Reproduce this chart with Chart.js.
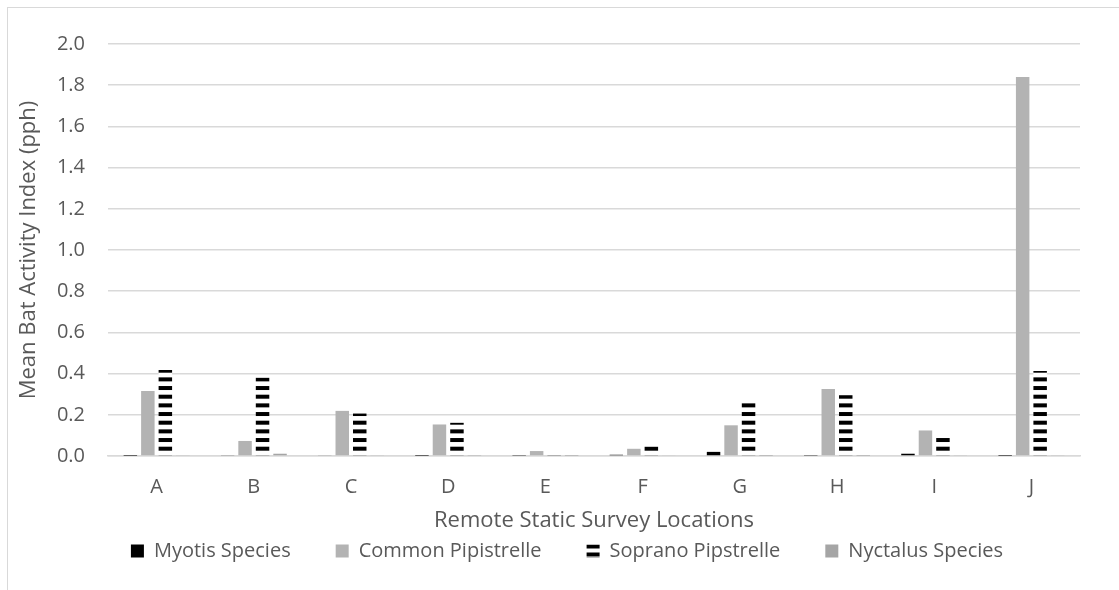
<!DOCTYPE html>
<html>
<head>
<meta charset="utf-8">
<script src="https://cdn.jsdelivr.net/npm/chart.js@4.4.0/dist/chart.umd.min.js"></script>
<style>
  html, body { margin: 0; padding: 0; background: #ffffff; }
  #wrap { width: 1119px; height: 590px; }
</style>
</head>
<body>
<div id="wrap"><canvas id="bats" width="1119" height="590"></canvas></div>
<script>
// Survey locations along the x axis
const locations = ['A', 'B', 'C', 'D', 'E', 'F', 'G', 'H', 'I', 'J'];

// Mean bat activity index (passes per hour) per species group
const myotisSpecies      = [0.001, 0.003, 0.004, 0.001, 0.002, 0.006, 0.020, 0.002, 0.011, 0.001];
const commonPipistrelle  = [0.316, 0.073, 0.219, 0.153, 0.024, 0.035, 0.149, 0.325, 0.124, 1.840];
const sopranoPipistrelle = [0.418, 0.380, 0.206, 0.161, 0.002, 0.047, 0.258, 0.295, 0.088, 0.413];
const nyctalusSpecies    = [0.003, 0.011, 0.003, 0.002, 0.001, 0.004, 0.001, 0.001, 0.003, 0.003];

// Value axis ticks
const yTicks = ['0.0', '0.2', '0.4', '0.6', '0.8', '1.0', '1.2', '1.4', '1.6', '1.8', '2.0'];

const FONT = '"Open Sans", "Noto Sans", sans-serif';
const TEXT = '#595959';
const GRID = '#d9d9d9';

// Wide horizontal black stripes on white (soprano series)
function stripePattern(height, bands) {
  const c = document.createElement('canvas');
  c.width = 8; c.height = height;
  const g = c.getContext('2d');
  g.fillStyle = '#ffffff';
  g.fillRect(0, 0, c.width, c.height);
  g.fillStyle = '#000000';
  bands.forEach(([y, h]) => g.fillRect(0, y, c.width, h));
  return g.createPattern(c, 'repeat');
}
const barStripes = stripePattern(26, [[4.7, 4], [13.37, 4], [22.03, 4], [-3.97, 4]]);
const keyStripes = stripePattern(13, [[0, 2.5], [11.5, 1.5], [6.5, 4]]);

const framePlugin = {
  id: 'frame',
  beforeDraw(chart) {
    const ctx = chart.ctx;
    ctx.save();
    ctx.fillStyle = '#ffffff';
    ctx.fillRect(0, 0, chart.width, chart.height);
    ctx.strokeStyle = GRID;
    ctx.lineWidth = 1;
    ctx.strokeRect(7.5, 7.5, chart.width + 40, chart.height + 40);
    ctx.restore();
  },
  afterLayout(chart) {
    // key row sits centred under the whole frame, just below the axis title
    const lg = chart.legend;
    const dx = 567 - (lg.left + lg.right) / 2;
    lg.left += dx; lg.right += dx;
    const pad = lg.options.labels.padding;
    lg.top = 551 - pad - 10;
    lg.bottom = chart.height;
  }
};

new Chart(document.getElementById('bats'), {
  type: 'bar',
  data: {
    labels: locations,
    datasets: [
      { label: 'Myotis Species', data: myotisSpecies, backgroundColor: '#000000' },
      { label: 'Common Pipistrelle', data: commonPipistrelle, backgroundColor: '#b3b3b3' },
      { label: 'Soprano Pipstrelle', data: sopranoPipistrelle, backgroundColor: barStripes },
      { label: 'Nyctalus Species', data: nyctalusSpecies, backgroundColor: '#a5a5a5' }
    ]
  },
  options: {
    responsive: false,
    animation: false,
    devicePixelRatio: 1,
    layout: { padding: { left: 8, right: 39, top: 44, bottom: 14 } },
    datasets: { bar: { categoryPercentage: 0.72, barPercentage: 0.77, borderWidth: 0 } },
    plugins: {
      tooltip: { enabled: false },
      legend: {
        position: 'bottom',
        maxHeight: 40,
        labels: {
          color: TEXT,
          font: { family: FONT, size: 20 },
          boxWidth: 13,
          boxHeight: 13,
          padding: 45,
          generateLabels(chart) {
            const items = Chart.defaults.plugins.legend.labels.generateLabels(chart);
            items[2].fillStyle = keyStripes;
            return items;
          }
        }
      }
    },
    scales: {
      x: {
        grid: { display: false, drawTicks: false },
        border: { display: true, color: GRID, width: 1.5 },
        ticks: { color: TEXT, font: { family: FONT, size: 20 }, padding: 19 },
        title: {
          display: true,
          text: 'Remote Static Survey Locations',
          color: TEXT,
          font: { family: FONT, size: 22 },
          padding: { top: 0, bottom: 2 }
        },
        afterFit(scale) { scale.height = 80; }
      },
      y: {
        min: 0,
        max: 2,
        grid: { color: GRID, lineWidth: 1.5, drawTicks: false },
        border: { display: false },
        ticks: {
          stepSize: 0.2,
          color: TEXT,
          font: { family: FONT, size: 20 },
          padding: 23,
          callback: (v, i) => yTicks[i]
        },
        title: {
          display: true,
          text: 'Mean Bat Activity Index (pph)',
          color: TEXT,
          font: { family: FONT, size: 22 },
          padding: { top: 8, bottom: 0 }
        },
        afterFit(scale) { scale.width = 100; }
      }
    }
  },
  plugins: [framePlugin]
});
</script>
</body>
</html>
